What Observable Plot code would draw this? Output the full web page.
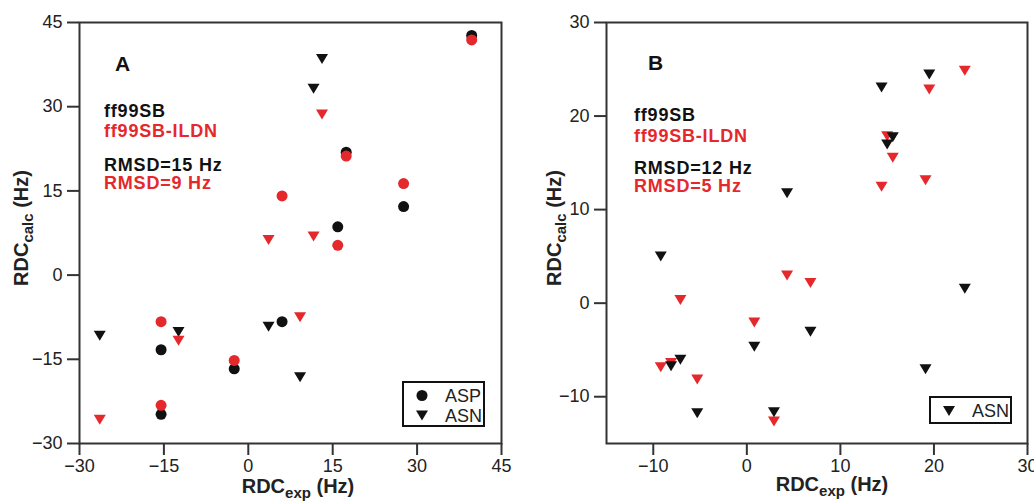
<!DOCTYPE html>
<html><head><meta charset="utf-8">
<script src="https://cdn.jsdelivr.net/npm/d3@7"></script>
<script src="https://cdn.jsdelivr.net/npm/@observablehq/plot@0.6"></script>
<style>
body{margin:0;background:#fff;font-family:"Liberation Sans",Arial,sans-serif}
#row{display:flex;width:1034px;height:503px;overflow:hidden}
svg{overflow:visible}
</style>
</head><body><div id="row"></div>
<script>
// ---------- data ----------
// Panel A: ASP (circles) and ASN (triangles); ff99SB (black) vs ff99SB-ILDN (red)
const aAspExp   = [-15.5, -15.5, -2.5, 6.0, 15.9, 17.4, 27.6, 39.7];
const aAspFf99  = [-13.3, -24.8, -16.7, -8.3, 8.6, 21.9, 12.2, 42.7];
const aAspIldn  = [-8.3, -23.2, -15.2, 14.1, 5.3, 21.2, 16.3, 41.9];
const aAsnExp   = [-26.4, -12.4, 3.6, 9.2, 11.6, 13.1];
const aAsnFf99  = [-10.7, -10.05, -9.1, -18.1, 33.3, 38.6];
const aAsnIldn  = [-25.7, -11.6, 6.35, -7.4, 6.95, 28.7];
// Panel B: ASN only
const bAsnExp   = [-9.2, -8.1, -7.1, -5.3, 0.8, 2.9, 4.3, 6.8, 14.4, 15.0, 15.6, 19.1, 19.5, 23.3];
const bAsnFf99  = [5.05, -6.7, -6.0, -11.7, -4.6, -11.6, 11.8, -3.0, 23.1, 17.0, 17.8, -7.0, 24.5, 1.6];
const bAsnIldn  = [-6.8, -6.35, 0.4, -8.1, -2.0, -12.6, 3.0, 2.2, 12.5, 17.9, 15.6, 13.2, 22.9, 24.9];
// ticks and texts
const aTicks = [-30, -15, 0, 15, 30, 45];
const bXTicks = [-10, 0, 10, 20, 30];
const bYTicks = [-10, 0, 10, 20, 30];
const aTexts = ["A", "ff99SB", "ff99SB-ILDN", "RMSD=15 Hz", "RMSD=9 Hz"];
const bTexts = ["B", "ff99SB", "ff99SB-ILDN", "RMSD=12 Hz", "RMSD=5 Hz"];
const legendA = ["ASP", "ASN"];
const legendB = ["ASN"];

// ---------- styles ----------
const RED = "#e5282b", BLK = "#111111", AX = "#333333";
const FONT = "Liberation Sans, Arial, sans-serif";
const triDown = {draw(ctx, size){
  const r = Math.sqrt(size/Math.PI), w = 1.2*r;
  ctx.moveTo(-w, -0.9*r); ctx.lineTo(w, -0.9*r); ctx.lineTo(0, 1.1*r); ctx.closePath();
}};
const zip = (xs, a, b) => xs.map((x,i)=>({x, ff:a[i], il:b[i]}));
const fmt = d => String(d).replace("-", "\u2212");

function panel({xDomain, yDomain, xTicks, yTicks, width, marginLeft, marginRight, marks}){
  return Plot.plot({
    width, height:503, marginLeft, marginRight, marginTop:22, marginBottom:60,
    x:{domain:xDomain}, y:{domain:yDomain},
    style:{fontFamily:FONT, color:"#222", background:"#fff", overflow:"visible"},
    marks:[
      Plot.axisX({ticks:xTicks, tickSize:12, tickPadding:4, stroke:AX, strokeWidth:2, fontSize:18, label:null, tickFormat:fmt}),
      Plot.axisY({ticks:yTicks, tickSize:12, tickPadding:5, stroke:AX, strokeWidth:2, fontSize:18, label:null, tickFormat:fmt}),
      ...marks,
      Plot.frame({stroke:AX, strokeWidth:2})
    ]
  });
}

const aAsp = zip(aAspExp, aAspFf99, aAspIldn);
const aAsn = zip(aAsnExp, aAsnFf99, aAsnIldn);
const bAsn = zip(bAsnExp, bAsnFf99, bAsnIldn);

const svgA = panel({xDomain:[-30,45], yDomain:[-30,45], xTicks:aTicks, yTicks:aTicks,
  width:517, marginLeft:79, marginRight:16, marks:[
    Plot.dot(aAsp, {x:"x", y:"ff", r:5.5, fill:BLK, symbol:"circle"}),
    Plot.dot(aAsn, {x:"x", y:"ff", r:5, fill:BLK, symbol:triDown}),
    Plot.dot(aAsp, {x:"x", y:"il", r:5.5, fill:RED, symbol:"circle"}),
    Plot.dot(aAsn, {x:"x", y:"il", r:5, fill:RED, symbol:triDown})
  ]});
const svgB = panel({xDomain:[-15,30], yDomain:[-15,30], xTicks:bXTicks, yTicks:bYTicks,
  width:517, marginLeft:89, marginRight:7, marks:[
    Plot.dot(bAsn, {x:"x", y:"il", r:5, fill:RED, symbol:triDown}),
    Plot.dot(bAsn, {x:"x", y:"ff", r:5, fill:BLK, symbol:triDown})
  ]});

const row = document.getElementById("row");
row.appendChild(svgA); row.appendChild(svgB);

function decorate(svg, texts, tpos, ylab, xlab, legend){
  const s = d3.select(svg);
  const colors = [BLK, BLK, RED, BLK, RED];
  texts.forEach((t,i)=>{
    s.append("text").attr("x", tpos[i][0]).attr("y", tpos[i][1]).attr("text-anchor", "start")
      .attr("fill", colors[i]).attr("font-family", FONT).attr("font-weight", "bold")
      .attr("font-size", i===0 ? 21 : 18).attr("letter-spacing", i===0 ? 0 : 0.8).text(t);
  });
  const yl = s.append("text").attr("transform", `translate(${ylab[0]},${ylab[1]}) rotate(-90)`)
    .attr("text-anchor","middle").attr("font-family", FONT).attr("font-weight","bold")
    .attr("font-size", 20).attr("fill", "#222");
  yl.append("tspan").text("RDC");
  yl.append("tspan").attr("dy", 5).attr("font-size", 15).text("calc");
  yl.append("tspan").attr("dy", -5).text(" (Hz)");
  const xl = s.append("text").attr("x", xlab[0]).attr("y", xlab[1])
    .attr("text-anchor","middle").attr("font-family", FONT).attr("font-weight","bold")
    .attr("font-size", 20).attr("fill", "#222");
  xl.append("tspan").text("RDC");
  xl.append("tspan").attr("dy", 5).attr("font-size", 15).text("exp");
  xl.append("tspan").attr("dy", -5).text(" (Hz)");
  const g = s.append("g");
  g.append("rect").attr("x", legend.x).attr("y", legend.y).attr("width", legend.w)
    .attr("height", legend.h).attr("fill", "#fff").attr("stroke", BLK).attr("stroke-width", 2);
  legend.items.forEach((it,i)=>{
    const cy = legend.y + legend.first + i*19.5;
    if (it === "ASP") g.append("circle").attr("cx", legend.x+19).attr("cy", cy).attr("r", 5.5).attr("fill", BLK);
    else g.append("path").attr("transform", `translate(${legend.x+19},${cy})`)
      .attr("d", d3.symbol(triDown, Math.PI*25)()).attr("fill", BLK);
    g.append("text").attr("x", legend.x+42).attr("y", cy+6.5).attr("text-anchor", "start")
      .attr("font-family", FONT).attr("font-size", 18).attr("fill", "#222").text(it);
  });
}

decorate(svgA, aTexts, [[115,71],[104,117],[104,137],[104,171],[104,189]],
  [28,228], [298,493], {x:403, y:382, w:81, h:44, first:13.5, items:legendA});
decorate(svgB, bTexts, [[131,70],[117,121],[117,142],[117,174],[117,192]],
  [44,228], [315,491], {x:413, y:397, w:81, h:26, first:13.5, items:legendB});
</script>
</body></html>
